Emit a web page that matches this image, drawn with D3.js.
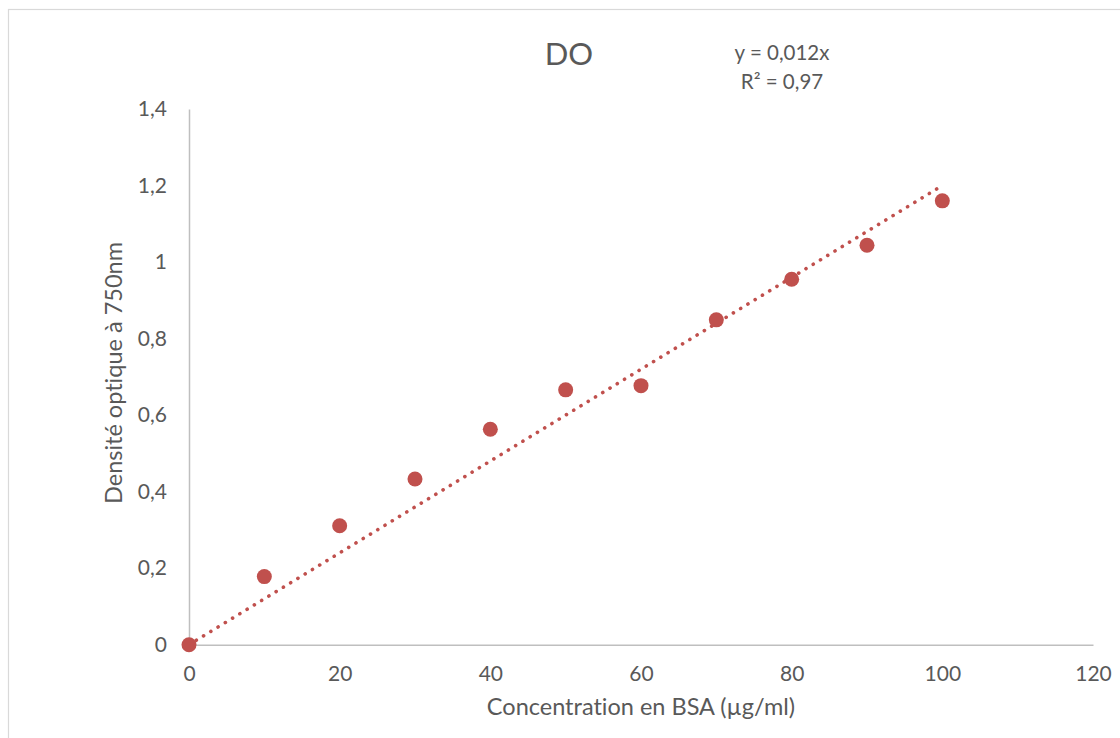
<!DOCTYPE html>
<html>
<head>
<meta charset="utf-8">
<script src="https://cdn.jsdelivr.net/npm/d3@7"></script>
<style>
  html, body { margin: 0; padding: 0; background: #fff; }
  svg { display: block; font-family: Lato, "Open Sans", sans-serif; font-variant-ligatures: none; }
</style>
</head>
<body>
<svg class="chart"></svg>
<script>
"use strict";
// BSA calibration curve
var concentration = [0, 10, 20, 30, 40, 50, 60, 70, 80, 90, 100];
var absorbance = [0, 0.178, 0.311, 0.433, 0.563, 0.666, 0.677, 0.849, 0.955, 1.044, 1.160];
var xTicks = [0, 20, 40, 60, 80, 100, 120];
var yTicks = [0, 0.2, 0.4, 0.6, 0.8, 1, 1.2, 1.4];
var slope = 0.012;
var rSquared = 0.97;
var trendRange = [0, 100];

document.addEventListener("DOMContentLoaded", function () {
    var svgWidth = 1120, svgHeight = 738;
    var red = "#c0504d", textColor = "#595959", axisColor = "#bfbfbf";

    var svg = d3.select(".chart")
        .attr("width", svgWidth)
        .attr("height", svgHeight);

    // outer chart frame (right and bottom run off the picture)
    svg.append("rect")
        .attr("x", 8.5).attr("y", 9.5)
        .attr("width", 1130).attr("height", 740)
        .attr("fill", "none")
        .attr("stroke", "#d9d9d9")
        .attr("stroke-width", 1.2);

    var x = d3.scaleLinear().domain([0, 120]).range([189, 1093]);
    var y = d3.scaleLinear().domain([0, 1.4]).range([644.7, 109]);

    var fr = d3.formatLocale({ decimal: ",", thousands: " ", grouping: [3], currency: ["", " €"] });
    var fmt = fr.format("~g");

    var xAxis = svg.append("g")
        .attr("transform", "translate(0," + y(0) + ")")
        .call(d3.axisBottom(x).tickValues(xTicks).tickSize(0).tickPadding(21).tickFormat(fmt));

    var yAxis = svg.append("g")
        .attr("transform", "translate(" + x(0) + ",0)")
        .call(d3.axisLeft(y).tickValues(yTicks).tickSize(0).tickPadding(22).tickFormat(fmt));

    [xAxis, yAxis].forEach(function (g) {
        g.select(".domain").attr("stroke", axisColor).attr("stroke-width", 1.5);
        g.selectAll("text")
            .attr("fill", textColor)
            .style("font-family", "Lato, 'Open Sans', sans-serif")
            .style("font-size", "21px");
    });

    // linear trendline through origin
    svg.append("line")
        .attr("x1", x(trendRange[0])).attr("y1", y(slope * trendRange[0]))
        .attr("x2", x(trendRange[1])).attr("y2", y(slope * trendRange[1]))
        .attr("stroke", red)
        .attr("stroke-width", 3.6)
        .attr("stroke-linecap", "round")
        .attr("stroke-dasharray", "0.1 8.4");

    svg.selectAll("circle.pt")
        .data(concentration)
        .enter()
        .append("circle")
        .attr("class", "pt")
        .attr("cx", function (d) { return x(d); })
        .attr("cy", function (d, i) { return y(absorbance[i]); })
        .attr("r", 7.5)
        .attr("fill", red);

    // titles
    svg.append("text")
        .attr("x", 569).attr("y", 65)
        .attr("text-anchor", "middle")
        .attr("fill", textColor)
        .style("font-size", "31px")
        .text("DO");

    var eq = svg.append("text")
        .attr("text-anchor", "middle")
        .attr("fill", textColor)
        .style("font-size", "20.5px");
    eq.append("tspan").attr("x", 782).attr("y", 60)
        .text("y = " + fr.format(".3f")(slope) + "x");
    eq.append("tspan").attr("x", 782).attr("y", 89)
        .text("R² = " + fr.format(".2f")(rSquared));

    svg.append("text")
        .attr("x", 641).attr("y", 715)
        .attr("text-anchor", "middle")
        .attr("fill", textColor)
        .style("font-size", "23.5px")
        .text("Concentration en BSA (µg/ml)");

    svg.append("text")
        .attr("transform", "translate(122,373) rotate(-90)")
        .attr("text-anchor", "middle")
        .attr("fill", textColor)
        .style("font-size", "23.5px")
        .text("Densité optique à 750nm");
});
</script>
</body>
</html>
